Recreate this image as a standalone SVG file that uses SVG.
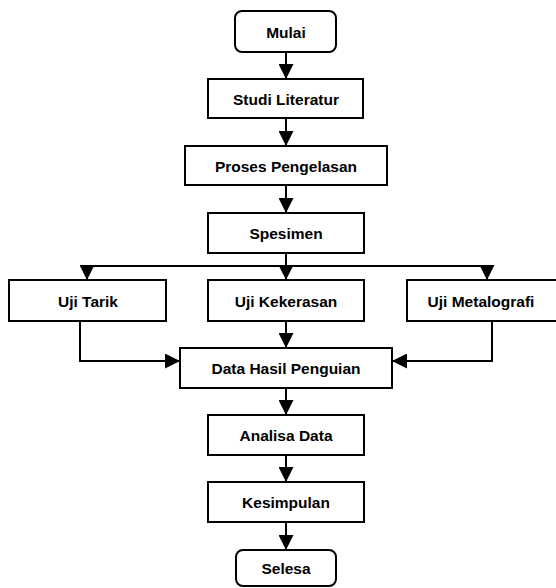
<svg xmlns="http://www.w3.org/2000/svg" width="556" height="588" viewBox="0 0 556 588">
<defs>
<style>
.box{fill:#fff;stroke:#000;stroke-width:2}
.t{font-family:"Liberation Sans",Arial,sans-serif;font-weight:bold;font-size:15.5px;fill:#000;text-anchor:middle;dominant-baseline:central}
.c{fill:none;stroke:#000;stroke-width:2}
</style>
<marker id="ah" markerWidth="15" markerHeight="15" viewBox="0 0 14 14" refX="14" refY="7" orient="auto" markerUnits="userSpaceOnUse">
<path d="M0,0 L14,7 L0,14 Z" fill="#000"/>
</marker>
</defs>
<rect width="556" height="588" fill="#fff"/>
<g id="connectors">
<path class="c" d="M286,52 V79" marker-end="url(#ah)"/>
<path class="c" d="M286,118 V146" marker-end="url(#ah)"/>
<path class="c" d="M286,185 V213" marker-end="url(#ah)"/>
<path class="c" d="M286,253 V266"/>
<path class="c" d="M87,266 H487"/>
<path class="c" d="M87,266 V280" marker-end="url(#ah)"/>
<path class="c" d="M286,266 V280" marker-end="url(#ah)"/>
<path class="c" d="M487,266 V280" marker-end="url(#ah)"/>
<path class="c" d="M80,321 V361 H180" marker-end="url(#ah)"/>
<path class="c" d="M286,321 V348" marker-end="url(#ah)"/>
<path class="c" d="M492,321 V361 H392" marker-end="url(#ah)"/>
<path class="c" d="M286,388 V415" marker-end="url(#ah)"/>
<path class="c" d="M286,455 V482" marker-end="url(#ah)"/>
<path class="c" d="M286,522 V550" marker-end="url(#ah)"/>
</g>
<g id="mulai"><rect class="box" x="235" y="11" width="101" height="41" rx="7"/><text class="t" x="286" y="32">Mulai</text></g>
<g id="studi"><rect class="box" x="208" y="79" width="155" height="39"/><text class="t" x="286" y="99">Studi Literatur</text></g>
<g id="proses"><rect class="box" x="185" y="146" width="202" height="39"/><text class="t" x="286" y="166">Proses Pengelasan</text></g>
<g id="spesimen"><rect class="box" x="208" y="213" width="156" height="40"/><text class="t" x="286" y="233">Spesimen</text></g>
<g id="tarik"><rect class="box" x="9" y="280" width="157" height="41"/><text class="t" x="88" y="301">Uji Tarik</text></g>
<g id="kekerasan"><rect class="box" x="208" y="280" width="156" height="41"/><text class="t" x="286" y="301">Uji Kekerasan</text></g>
<g id="metalografi"><rect class="box" x="407" y="280" width="152" height="41"/><text class="t" x="481" y="301">Uji Metalografi</text></g>
<g id="data"><rect class="box" x="180" y="348" width="212" height="40"/><text class="t" x="286" y="368">Data Hasil Penguian</text></g>
<g id="analisa"><rect class="box" x="208" y="415" width="156" height="40"/><text class="t" x="286" y="435">Analisa Data</text></g>
<g id="kesimpulan"><rect class="box" x="208" y="482" width="156" height="40"/><text class="t" x="286" y="502">Kesimpulan</text></g>
<g id="selesa"><rect class="box" x="236" y="550" width="100" height="36" rx="7"/><text class="t" x="286" y="568">Selesa</text></g>
</svg>
